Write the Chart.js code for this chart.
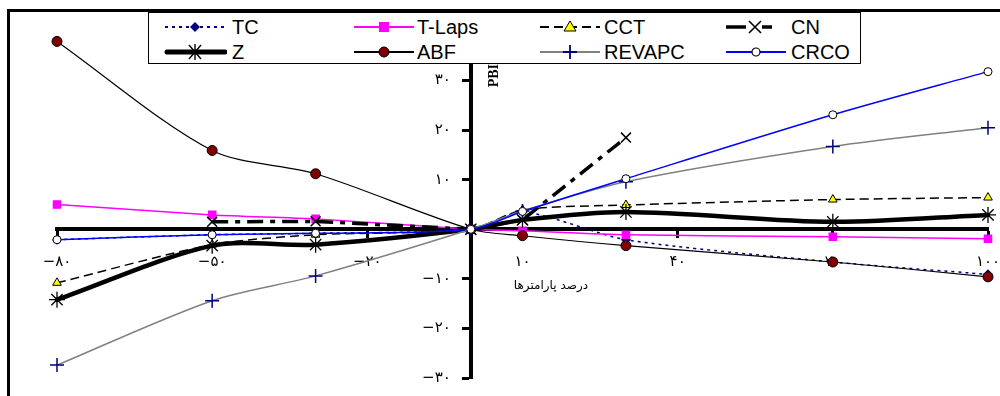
<!DOCTYPE html>
<html><head><meta charset="utf-8">
<script src="https://cdn.jsdelivr.net/npm/chart.js@4.4.0/dist/chart.umd.min.js"></script>
<style>
html,body{margin:0;padding:0;background:#fff;}
#wrap{position:relative;width:1000px;height:396px;overflow:hidden;background:#fff;}
#c{position:absolute;left:0;top:0;}
#frame{position:absolute;left:7px;top:9px;width:1100px;height:500px;border-left:3px solid #000;border-top:3px solid #000;pointer-events:none;}
#legend{position:absolute;left:148px;top:12px;width:711px;height:50px;border:1px solid #000;background:#fff;font-family:'Liberation Sans',Arial,sans-serif;font-size:20px;color:#000;}
.item{position:absolute;height:24px;line-height:24px;white-space:nowrap;}
</style>
</head><body>
<div id="wrap">
<canvas id="c" width="1000" height="396"></canvas>
<div id="frame"></div>
<div id="legend"></div>
</div>
<script>
const xValues = [-80, -50, -30, 0, 10, 30, 70, 100];
const seriesNames = ['TC', 'T-Laps', 'CCT', 'CN', 'Z', 'ABF', 'REVAPC', 'CRCO'];
const tc     = [-2.1, -1.1, -0.8, 0, 3.5, -2.1, -6.6, -9.1];
const tLaps  = [5.0, 2.9, 2.1, 0, -0.3, -1.1, -1.5, -1.9];
const cct    = [-10.8, -3.1, -1.1, 0, 3.9, 4.9, 6.0, 6.4];
const cn     = [null, 1.5, 1.6, 0, 1.9, 18.5, null, null];
const z      = [-14.2, -3.3, -3.1, 0, 1.9, 3.5, 1.5, 2.9];
const abf    = [37.9, 15.9, 11.2, 0, -1.3, -3.3, -6.6, -9.6];
const revapc = [-27.4, -14.4, -9.4, 0, 3.7, 9.6, 16.7, 20.5];
const crco   = [-2.1, -1.1, -0.8, 0, 3.6, 10.2, 23.1, 31.8];
const xTickValues = [-80, -50, -20, 10, 40, 70, 100];
const yTickValues = [-30, -20, -10, 10, 20, 30];
const xTitle = 'درصد پارامترها';
const yTitle = 'PBI';

const faDigits = '۰۱۲۳۴۵۶۷۸۹';
function fa(v) {
  const s = String(Math.abs(v)).replace(/\d/g, d => faDigits[+d]);
  return (v < 0 ? '−' : '') + s;
}
function pts(arr) { return xValues.map((x, i) => ({x: x, y: arr[i]})); }

const styles = [
  {data: tc, borderColor: '#000080', borderWidth: 1.5, borderDash: [3, 4], pointStyle: 'rectRot', pointRadius: 4, pointBackgroundColor: '#000080', pointBorderColor: '#000080', tension: 0.25},
  {data: tLaps, borderColor: '#ff00ff', borderWidth: 1.5, pointStyle: 'rect', pointRadius: 5, pointBackgroundColor: '#ff00ff', pointBorderColor: '#ff00ff', tension: 0.25},
  {data: cct, borderColor: '#000000', borderWidth: 1.5, borderDash: [9, 5], pointStyle: 'triangle', pointRadius: 5, pointBackgroundColor: '#ffff00', pointBorderColor: '#000000', pointBorderWidth: 1, tension: 0.25},
  {data: cn, borderColor: '#000000', borderWidth: 3.5, borderDash: [16, 7, 5, 7], pointStyle: 'crossRot', pointRadius: 7, pointBorderColor: '#000000', pointBorderWidth: 1.5, tension: 0},
  {data: z, borderColor: '#000000', borderWidth: 4.5, borderCapStyle: 'round', borderJoinStyle: 'round', pointStyle: 'star', pointRadius: 8, pointBorderColor: '#000000', pointBorderWidth: 1.3, tension: 0.3},
  {data: abf, borderColor: '#000000', borderWidth: 1.2, pointStyle: 'circle', pointRadius: 5, pointBackgroundColor: '#800000', pointBorderColor: '#000000', pointBorderWidth: 1, tension: 0.3},
  {data: revapc, borderColor: '#808080', borderWidth: 1.5, pointStyle: 'cross', pointRadius: 7, pointBorderColor: '#000080', pointBorderWidth: 1.5, tension: 0.3},
  {data: crco, borderColor: '#0000ff', borderWidth: 1.5, pointStyle: 'circle', pointRadius: 4, pointBackgroundColor: '#ffffff', pointBorderColor: '#000000', pointBorderWidth: 1, tension: 0.3}
];

const datasets = styles.map((s, i) => Object.assign({}, s, {
  label: seriesNames[i],
  data: pts(s.data),
  fill: false,
  order: styles.length - i,
  clip: false,
  spanGaps: false
}));

const titlesPlugin = {
  id: 'titles',
  beforeDatasetsDraw(chart) {
    const {ctx, scales: {x, y}} = chart;
    ctx.save();
    ctx.fillStyle = '#000';
    ctx.font = "15px 'DejaVu Sans'";
    ctx.textAlign = 'right';
    ctx.textBaseline = 'middle';
    const ax = x.getPixelForValue(0);
    y.ticks.forEach(t => {
      if (yTickValues.includes(t.value)) ctx.fillText(fa(t.value), ax - 20, y.getPixelForValue(t.value));
    });
    ctx.restore();
  },
  afterDatasetsDraw(chart) {
    const {ctx, scales: {x, y}} = chart;
    ctx.save();
    ctx.fillStyle = '#000';
    ctx.textAlign = 'center';
    ctx.textBaseline = 'middle';
    ctx.font = "12px 'DejaVu Sans'";
    ctx.fillText(xTitle, x.getPixelForValue(15.5), y.getPixelForValue(-11.5));
    ctx.translate(x.getPixelForValue(0) + 24, y.getPixelForValue(31));
    ctx.rotate(-Math.PI / 2);
    ctx.font = "bold 14px 'Liberation Serif'";
    ctx.fillText(yTitle, 0, 0);
    ctx.restore();
  }
};

function noPad(scale) { scale.paddingLeft = 0; scale.paddingRight = 0; scale.paddingTop = 0; scale.paddingBottom = 0; }

new Chart(document.getElementById('c'), {
  type: 'line',
  data: {datasets: datasets},
  plugins: [titlesPlugin],
  options: {
    responsive: false,
    animation: false,
    devicePixelRatio: 1,
    layout: {padding: {left: 57, right: 12, top: 31, bottom: 18}},
    plugins: {legend: {display: false}, tooltip: {enabled: false}},
    scales: {
      x: {
        type: 'linear', min: -80, max: 100,
        position: {y: 0},
        afterFit: noPad,
        border: {display: true, width: 4, color: '#000'},
        grid: {display: true, drawOnChartArea: false, drawTicks: true, tickLength: 7, tickWidth: 3, tickColor: '#000'},
        ticks: {stepSize: 30, padding: 17, color: '#000', font: {family: "'DejaVu Sans'", size: 15},
          autoSkip: false, maxRotation: 0,
          callback: v => xTickValues.includes(v) ? fa(v) : ''}
      },
      y: {
        type: 'linear', min: -30, max: 40,
        position: {x: 0},
        afterFit: noPad,
        border: {display: true, width: 4, color: '#000'},
        grid: {display: true, drawOnChartArea: false, drawTicks: true, tickLength: 7, tickWidth: 3, tickColor: '#000'},
        ticks: {display: false, stepSize: 10}
      }
    }
  }
});

// Legend (HTML)
const legendSamples = {
  'TC': '<line x1="2" y1="10" x2="62" y2="10" stroke="#000080" stroke-width="2" stroke-dasharray="3,4"/><polygon points="32,5 37,10 32,15 27,10" fill="#000080"/>',
  'T-Laps': '<line x1="2" y1="10" x2="62" y2="10" stroke="#ff00ff" stroke-width="2"/><rect x="27" y="5" width="10" height="10" fill="#ff00ff"/>',
  'CCT': '<line x1="2" y1="10" x2="62" y2="10" stroke="#000" stroke-width="2" stroke-dasharray="9,5"/><polygon points="32,4 38,14 26,14" fill="#ffff00" stroke="#000" stroke-width="1"/>',
  'CN': '<line x1="2" y1="10" x2="22" y2="10" stroke="#000" stroke-width="3.5"/><line x1="38" y1="10" x2="48" y2="10" stroke="#000" stroke-width="3.5"/><path d="M25,4 L37,16 M37,4 L25,16" stroke="#000" stroke-width="1.6"/>',
  'Z': '<line x1="4" y1="10" x2="62" y2="10" stroke="#000" stroke-width="5" stroke-linecap="round"/><path d="M26,3 L38,17 M38,3 L26,17 M32,2 L32,18" stroke="#000" stroke-width="1.4"/>',
  'ABF': '<line x1="2" y1="10" x2="62" y2="10" stroke="#000" stroke-width="2"/><circle cx="32" cy="10" r="5" fill="#800000" stroke="#000" stroke-width="1"/>',
  'REVAPC': '<line x1="2" y1="10" x2="62" y2="10" stroke="#808080" stroke-width="2"/><path d="M32,3 L32,17 M25,10 L39,10" stroke="#000080" stroke-width="1.8"/>',
  'CRCO': '<line x1="2" y1="10" x2="62" y2="10" stroke="#0000ff" stroke-width="2"/><circle cx="32" cy="10" r="4" fill="#fff" stroke="#000" stroke-width="1.2"/>'
};
const legendOrder = [['TC', 'T-Laps', 'CCT', 'CN'], ['Z', 'ABF', 'REVAPC', 'CRCO']];
const colSample = [14, 203, 389, 575];
const colText = [83, 268, 455, 642];
const rowTop = [2, 27];
const legendEl = document.getElementById('legend');
legendOrder.forEach((row, r) => {
  row.forEach((name, c) => {
    const s = document.createElement('div');
    s.className = 'item';
    s.style.left = colSample[c] + 'px';
    s.style.top = rowTop[r] + 'px';
    s.innerHTML = '<svg width="64" height="20" style="position:absolute;left:0;top:2px">' + legendSamples[name] + '</svg>';
    legendEl.appendChild(s);
    const t = document.createElement('div');
    t.className = 'item';
    t.style.left = colText[c] + 'px';
    t.style.top = rowTop[r] + 'px';
    t.textContent = name;
    legendEl.appendChild(t);
  });
});
</script>
</body></html>
